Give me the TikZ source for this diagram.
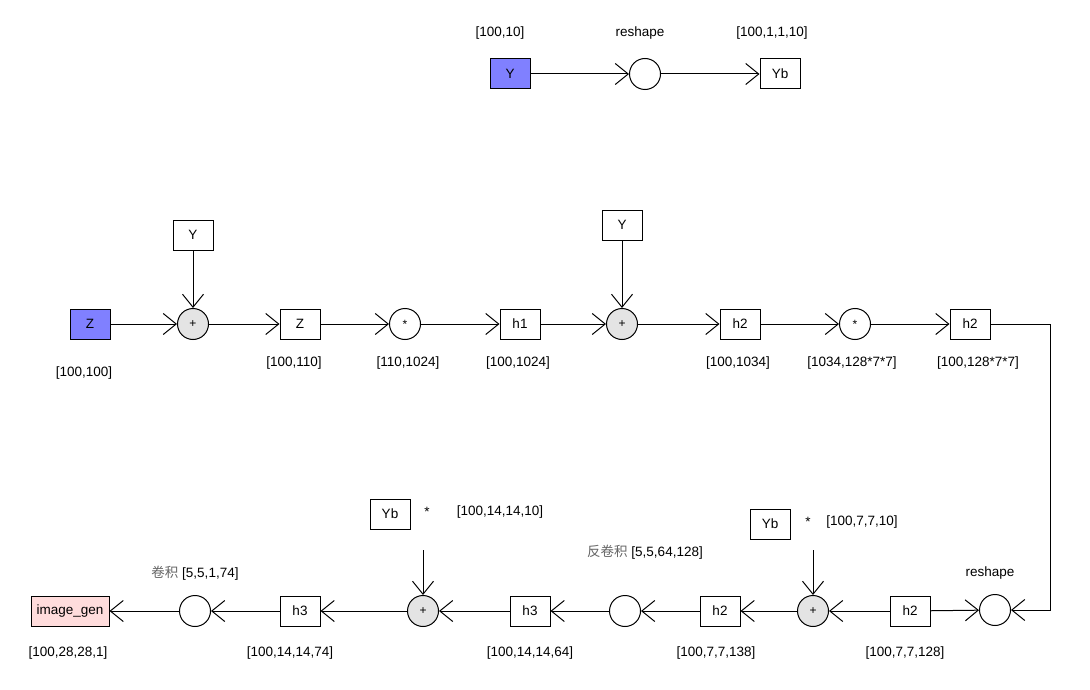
\documentclass[tikz,border=0pt]{standalone}
\usepackage{fontspec}
\setmainfont{Liberation Sans}
\newfontfamily\cjkfont{Noto Sans CJK SC}
\usepackage{xcolor}
\usetikzlibrary{arrows.meta,positioning}
\definecolor{inputBlue}{RGB}{128,128,255}
\definecolor{outputPink}{RGB}{255,220,220}
\definecolor{opGray}{RGB}{228,228,228}
\definecolor{noteGray}{RGB}{100,100,100}
\tikzset{
  box/.style={draw, minimum width=40pt, minimum height=30pt, inner sep=0pt},
  op/.style={draw, circle, minimum size=31pt, inner sep=0pt, font=\fontsize{12}{13}\selectfont},
  addop/.style={op, fill=opGray},
  flow/.style={-{Straight Barb[length=13pt,width=21pt]}, line width=1pt}
}

\begin{document}
\begin{tikzpicture}[x=1pt, y=-1pt, line width=1pt, font=\fontsize{13.5}{16}\selectfont]
\useasboundingbox (0,0) rectangle (1090,690);

% top row
\node[box, fill=inputBlue] (yIn) at (510,74) {Y};
\node[op] (reshapeTop) at (645,74) {};
\node[box] (ybTop) at (780,74) {Yb};
\node (yInLbl) at (500,33) {[100,10]};
\node (reshapeTopLbl) at (640,33) {reshape};
\node (ybTopLbl) at (772,33) {[100,1,1,10]};
\draw[flow] (yIn) -- (reshapeTop);
\draw[flow] (reshapeTop) -- (ybTop);

% middle row
\node[box, fill=inputBlue] (zIn) at (90,324) {Z};
\node[addop] (addA) at (193,324) {+};
\node[box] (yA) at (193,235) {Y};
\node[box] (zCat) at (300,324) {Z};
\node[op] (mulA) at (405,324) {*};
\node[box] (hOne) at (520,324) {h1};
\node[addop] (addB) at (622,324) {+};
\node[box] (yB) at (622,225) {Y};
\node[box] (hTwoA) at (740,324) {h2};
\node[op] (mulB) at (855,324) {*};
\node[box] (hTwoB) at (970,324) {h2};

\node (zInLbl) at (84,373) {[100,100]};
\node (zCatLbl) at (294,363) {[100,110]};
\node (mulALbl) at (408,363) {[110,1024]};
\node (hOneLbl) at (518,363) {[100,1024]};
\node (hTwoALbl) at (738,363) {[100,1034]};
\node (mulBLbl) at (852,363) {[1034,128*7*7]};
\node (hTwoBLbl) at (978,363) {[100,128*7*7]};

\draw[flow] (zIn) -- (addA);
\draw[flow] (yA) -- (addA);
\draw[flow] (addA) -- (zCat);
\draw[flow] (zCat) -- (mulA);
\draw[flow] (mulA) -- (hOne);
\draw[flow] (hOne) -- (addB);
\draw[flow] (yB) -- (addB);
\draw[flow] (addB) -- (hTwoA);
\draw[flow] (hTwoA) -- (mulB);
\draw[flow] (mulB) -- (hTwoB);

% bottom row
\node[op] (reshapeBot) at (995,610) {};
\node[box] (hTwoC) at (910,611) {h2};
\node[addop] (addC) at (813,611) {+};
\node[box] (ybC) at (770,524) {Yb};
\node[box] (hTwoD) at (720,611) {h2};
\node[op] (deconv) at (625,611) {};
\node[box] (hThreeA) at (530,611) {h3};
\node[addop] (addD) at (423,611) {+};
\node[box] (ybD) at (390,514) {Yb};
\node[box] (hThreeB) at (300,611) {h3};
\node[op] (conv) at (195,611) {};
\node[box, fill=outputPink, minimum width=78pt] (imgGen) at (70,611) {image\_gen};

\node (reshapeBotLbl) at (990,573) {reshape};
\node (hTwoCLbl) at (905,653) {[100,7,7,128]};
\node (ybCStar) at (808,522) {*};
\node (ybCLbl) at (862,522) {[100,7,7,10]};
\node (hTwoDLbl) at (716,653) {[100,7,7,138]};
\node (deconvLbl) at (645,552) {{\color{noteGray}\cjkfont 反卷积} [5,5,64,128]};
\node (hThreeALbl) at (530,653) {[100,14,14,64]};
\node (ybDStar) at (427,512) {*};
\node (ybDLbl) at (500,512) {[100,14,14,10]};
\node (hThreeBLbl) at (290,653) {[100,14,14,74]};
\node (convLbl) at (195,573) {{\color{noteGray}\cjkfont 卷积} [5,5,1,74]};
\node (imgGenLbl) at (68,653) {[100,28,28,1]};

\coordinate (turn) at (1050,610);
\coordinate (ybCTail) at (813,550);
\coordinate (ybDTail) at (423,550);

\draw[flow] (hTwoB) -| (turn) -- (reshapeBot);
\draw[flow] (hTwoC) -- (reshapeBot);
\draw[flow] (hTwoC) -- (addC);
\draw[flow] (ybCTail) -- (addC);
\draw[flow] (addC) -- (hTwoD);
\draw[flow] (hTwoD) -- (deconv);
\draw[flow] (deconv) -- (hThreeA);
\draw[flow] (hThreeA) -- (addD);
\draw[flow] (ybDTail) -- (addD);
\draw[flow] (addD) -- (hThreeB);
\draw[flow] (hThreeB) -- (conv);
\draw[flow] (conv) -- (imgGen);
\end{tikzpicture}
\end{document}
